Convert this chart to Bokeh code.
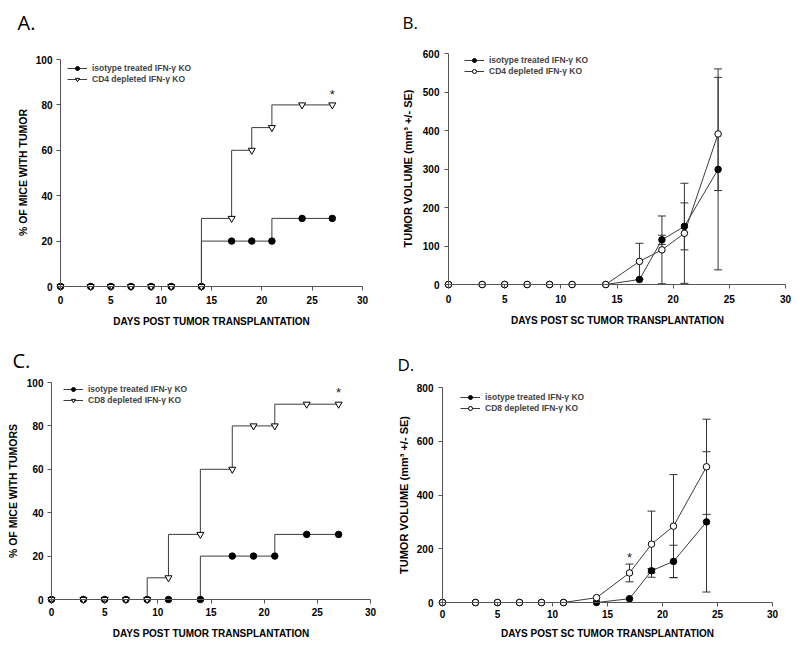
import math
from bokeh.plotting import figure
from bokeh.models import (Range1d, FixedTicker, Legend, LegendItem, Whisker, TeeHead,
                          ColumnDataSource, Label)
from bokeh.layouts import column, row
from bokeh.core.properties import value
from bokeh.embed import file_html
from bokeh.resources import INLINE

# ---------------- data ----------------
days_surv = [0, 3, 5, 7, 9, 11, 14, 17, 19, 21, 24, 27]
iso_A = [0, 0, 0, 0, 0, 0, 0, 20, 20, 20, 30, 30]
cd4_A = [0, 0, 0, 0, 0, 0, 0, 30, 60, 70, 80, 80]
star_A_x = [27]
star_A_y = [86]

iso_C = [0, 0, 0, 0, 0, 0, 0, 20, 20, 20, 30, 30]
cd8_C = [0, 0, 0, 0, 0, 10, 30, 60, 80, 80, 90, 90]
star_C_x = [27]
star_C_y = [97]

days_vol = [0, 3, 5, 7, 9, 11, 14, 17, 19, 21, 24]
iso_B = [0, 0, 0, 0, 0, 0, 0, 13, 116, 151, 299]
cd4_B = [0, 0, 0, 0, 0, 0, 0, 60, 90, 133, 391]
iso_B_err_days = [19, 21, 24]
iso_B_err_vals = [116, 151, 299]
iso_B_se = [12, 61, 261]
cd4_B_err_days = [17, 19, 21, 24]
cd4_B_err_vals = [60, 90, 133, 391]
cd4_B_se = [47, 88, 130, 147]

iso_D = [0, 0, 0, 0, 0, 0, 0, 14, 118, 153, 300]
cd8_D = [0, 0, 0, 0, 0, 0, 18, 110, 217, 284, 505]
iso_D_err_days = [19, 21, 24]
iso_D_err_vals = [118, 153, 300]
iso_D_se = [8, 60, 261]
cd8_D_err_days = [17, 19, 21, 24]
cd8_D_err_vals = [110, 217, 284, 505]
cd8_D_se = [33, 123, 192, 177]
star_D_x = [17]
star_D_y = [178]

x_ticks = [0, 5, 10, 15, 20, 25, 30]
y_ticks_pct = [0, 20, 40, 60, 80, 100]
y_ticks_B = [0, 100, 200, 300, 400, 500, 600]
y_ticks_D = [0, 200, 400, 600, 800]

lbl_iso = "isotype treated IFN-γ KO"
lbl_cd4 = "CD4 depleted IFN-γ KO"
lbl_cd8 = "CD8 depleted IFN-γ KO"
xlab_1 = "DAYS POST TUMOR TRANSPLANTATION"
xlab_2 = "DAYS POST SC TUMOR TRANSPLANTATION"
ylab_1 = "% OF MICE WITH TUMOR"
ylab_3 = "% OF MICE WITH TUMORS"
ylab_vol = "TUMOR VOLUME (mm³ +/- SE)"

FONT = "Liberation Sans"
LINE = "#3c3c3c"
AXC = "#555555"
CIRC = 6.5
TRI = 7


class Panel:
    """Figure whose frame fills the whole canvas; axes are pinned at 0."""

    def __init__(self, ox, oy, W, H, AX, R, T, AY, ymax, yticks, xs, ys):
        self.ox, self.oy, self.W, self.H = ox, oy, W, H
        self.AX, self.AY = AX, AY
        self.sx = (R - AX) / 30.0
        self.sy = (AY - T) / float(ymax)
        p = figure(width=W, height=H, output_backend="svg", toolbar_location=None,
                   x_range=Range1d(self.dx(ox), self.dx(ox + W)),
                   y_range=Range1d(self.dy(oy + H), self.dy(oy)),
                   min_border=0)
        p.outline_line_color = None
        p.grid.visible = False
        p.background_fill_color = "white"
        p.border_fill_color = "white"
        for ax, tk, bounds in ((p.xaxis, x_ticks, (0, 30)), (p.yaxis, yticks, (0, ymax))):
            ax.fixed_location = 0
            ax.bounds = bounds
            ax.ticker = FixedTicker(ticks=tk)
            ax.minor_tick_line_color = None
            ax.major_tick_in = 0
            ax.major_tick_out = 4
            ax.axis_line_color = AXC
            ax.major_tick_line_color = AXC
            ax.major_label_text_font = FONT
            ax.major_label_text_font_style = "bold"
            ax.major_label_text_font_size = "10px"
            ax.major_label_text_color = "black"
        p.xaxis.major_label_standoff = xs
        p.yaxis.major_label_standoff = ys
        self.p = p

    # window pixel -> data coordinate
    def dx(self, px):
        return (px - self.AX) / self.sx

    def dy(self, py):
        return (self.AY - py) / self.sy

    def label(self, text, px, py, size, style="bold", font=FONT, angle=0.0,
              align="center", baseline="middle"):
        self.p.add_layout(Label(x=self.dx(px), y=self.dy(py), text=text, angle=angle,
                                text_font=font, text_font_size=size,
                                text_font_style=style, text_color="black",
                                text_align=align, text_baseline=baseline))

    def legend(self, items, glyph_px, row1_py):
        vx = glyph_px - self.ox
        vy = (self.oy + self.H) - row1_py - 16
        lg = Legend(items=items, location=(vx, vy), padding=0, margin=0, spacing=1,
                    glyph_width=20, glyph_height=10, label_height=10, label_standoff=5,
                    label_text_font=FONT, label_text_font_style="bold",
                    label_text_font_size="8.5px", background_fill_alpha=0,
                    border_line_alpha=0)
        self.p.add_layout(lg)


def add_star(p, xs, ys):
    p.text(x=xs, y=ys, text=["*"] * len(xs), text_font=value(FONT),
           text_font_size="13px", text_align="center", text_baseline="middle",
           y_offset=3, text_color="#222222")


def add_err(p, xs, ys, se):
    src = ColumnDataSource(dict(x=xs, lo=[a - b for a, b in zip(ys, se)],
                                hi=[a + b for a, b in zip(ys, se)]))
    w = Whisker(source=src, base="x", upper="hi", lower="lo", dimension="height",
                line_color="#333333", line_width=1, level="underlay",
                upper_head=TeeHead(size=8, line_color="#333333", line_width=1),
                lower_head=TeeHead(size=8, line_color="#333333", line_width=1))
    p.add_layout(w)


ROT = math.pi / 2

# ---------------- Panel A ----------------
A = Panel(0, 0, 396, 330, 60, 362, 59, 286, 100, y_ticks_pct, 5, 4)
pA = A.p
la1 = pA.step(days_surv, iso_A, mode="before", line_color=LINE, line_width=1)
sa1 = pA.scatter(days_surv, iso_A, marker="circle", size=CIRC, fill_color="black",
                 line_color="black")
la2 = pA.step(days_surv, cd4_A, mode="before", line_color=LINE, line_width=1)
sa2 = pA.scatter(days_surv, cd4_A, marker="inverted_triangle", size=TRI,
                 fill_color="white", line_color="black")
add_star(pA, star_A_x, star_A_y)
A.legend([LegendItem(label=lbl_iso, renderers=[la1, sa1]),
          LegendItem(label=lbl_cd4, renderers=[la2, sa2])], 67, 68)
A.label("A.", 17, 22, "20px", style="normal", font="Open Sans", align="left",
        baseline="alphabetic")
A.label(xlab_1, 211, 321, "10px")
A.label(ylab_1, 22.7, 172, "10.5px", angle=ROT)

# ---------------- Panel B ----------------
Bp = Panel(396, 0, 404, 330, 448, 785, 53, 284, 600, y_ticks_B, 6, 5)
pB = Bp.p
add_err(pB, iso_B_err_days, iso_B_err_vals, iso_B_se)
add_err(pB, cd4_B_err_days, cd4_B_err_vals, cd4_B_se)
lb1 = pB.line(days_vol, iso_B, line_color=LINE, line_width=1)
lb2 = pB.line(days_vol, cd4_B, line_color=LINE, line_width=1)
sb1 = pB.scatter(days_vol, iso_B, marker="circle", size=CIRC, fill_color="black",
                 line_color="black")
sb2 = pB.scatter(days_vol, cd4_B, marker="circle", size=CIRC, fill_color="white",
                 line_color="black")
Bp.legend([LegendItem(label=lbl_iso, renderers=[lb1, sb1]),
           LegendItem(label=lbl_cd4, renderers=[lb2, sb2])], 464, 60)
Bp.label("B.", 402, 22, "17px", style="normal", font="Open Sans", align="left",
         baseline="alphabetic")
Bp.label(xlab_2, 617, 320, "10px")
Bp.label(ylab_vol, 407, 168, "11px", angle=ROT)

# ---------------- Panel C ----------------
C = Panel(0, 330, 396, 314, 51, 370, 382, 599, 100, y_ticks_pct, 4, 4)
pC = C.p
lc1 = pC.step(days_surv, iso_C, mode="before", line_color=LINE, line_width=1)
sc1 = pC.scatter(days_surv, iso_C, marker="circle", size=CIRC, fill_color="black",
                 line_color="black")
lc2 = pC.step(days_surv, cd8_C, mode="before", line_color=LINE, line_width=1)
sc2 = pC.scatter(days_surv, cd8_C, marker="inverted_triangle", size=TRI,
                 fill_color="white", line_color="black")
add_star(pC, star_C_x, star_C_y)
C.legend([LegendItem(label=lbl_iso, renderers=[lc1, sc1]),
          LegendItem(label=lbl_cd8, renderers=[lc2, sc2])], 63, 389)
C.label("C.", 12, 360, "20px", style="normal", font="Open Sans", align="left",
        baseline="alphabetic")
C.label(xlab_1, 210.5, 633, "10px")
C.label(ylab_3, 12.7, 490.5, "10.5px", angle=ROT)

# ---------------- Panel D ----------------
D = Panel(396, 330, 404, 314, 442, 772, 387, 602, 800, y_ticks_D, 3, 5)
pD = D.p
add_err(pD, iso_D_err_days, iso_D_err_vals, iso_D_se)
add_err(pD, cd8_D_err_days, cd8_D_err_vals, cd8_D_se)
ld1 = pD.line(days_vol, iso_D, line_color=LINE, line_width=1)
ld2 = pD.line(days_vol, cd8_D, line_color=LINE, line_width=1)
sd1 = pD.scatter(days_vol, iso_D, marker="circle", size=CIRC, fill_color="black",
                 line_color="black")
sd2 = pD.scatter(days_vol, cd8_D, marker="circle", size=CIRC, fill_color="white",
                 line_color="black")
add_star(pD, star_D_x, star_D_y)
D.legend([LegendItem(label=lbl_iso, renderers=[ld1, sd1]),
          LegendItem(label=lbl_cd8, renderers=[ld2, sd2])], 460, 397)
D.label("D.", 397, 364, "17px", style="normal", font="Open Sans", align="left",
        baseline="alphabetic")
D.label(xlab_2, 607, 633, "10px")
D.label(ylab_vol, 403, 494.5, "11px", angle=ROT)

layout = column(row(pA, pB), row(pC, pD))
open("out.html", "w").write(file_html(layout, INLINE))
